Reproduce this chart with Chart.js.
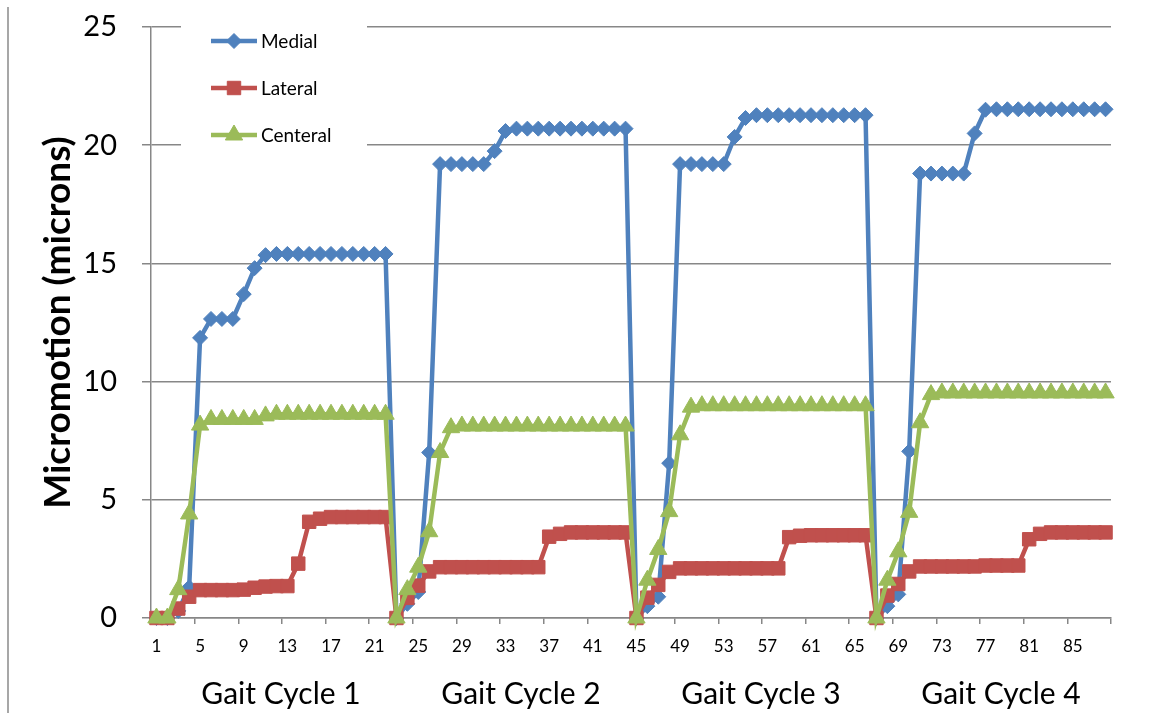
<!DOCTYPE html>
<html>
<head>
<meta charset="utf-8">
<script src="https://cdn.jsdelivr.net/npm/chart.js@4.4.1/dist/chart.umd.min.js"></script>
<style>
  html, body { margin: 0; padding: 0; background: #ffffff; }
  canvas { display: block; }
</style>
</head>
<body>
<canvas id="chart" width="1150" height="713"></canvas>
<script>
// Sample index along the four gait cycles (22 samples per cycle)
const categories = [
  '1','2','3','4','5','6','7','8','9','10','11','12','13','14','15','16','17','18','19','20','21','22',
  '23','24','25','26','27','28','29','30','31','32','33','34','35','36','37','38','39','40','41','42','43','44',
  '45','46','47','48','49','50','51','52','53','54','55','56','57','58','59','60','61','62','63','64','65','66',
  '67','68','69','70','71','72','73','74','75','76','77','78','79','80','81','82','83','84','85','86','87','88'
];

// Micromotion in microns
const medial = [
  0, 0, 0.3, 1.3, 11.85, 12.65, 12.65, 12.65, 13.7, 14.8, 15.35, 15.4, 15.4, 15.4, 15.4, 15.4, 15.4, 15.4, 15.4, 15.4, 15.4, 15.4,
  0, 0.6, 1.1, 7.0, 19.2, 19.2, 19.2, 19.2, 19.2, 19.75, 20.6, 20.7, 20.7, 20.7, 20.7, 20.7, 20.7, 20.7, 20.7, 20.7, 20.7, 20.7,
  0, 0.5, 0.9, 6.55, 19.2, 19.2, 19.2, 19.2, 19.2, 20.35, 21.15, 21.27, 21.27, 21.27, 21.27, 21.27, 21.27, 21.27, 21.27, 21.27, 21.27, 21.27,
  0, 0.5, 1.0, 7.05, 18.8, 18.8, 18.8, 18.8, 18.8, 20.5, 21.5, 21.52, 21.52, 21.52, 21.52, 21.52, 21.52, 21.52, 21.52, 21.52, 21.52, 21.52
];
const lateral = [
  0, 0, 0.4, 0.9, 1.18, 1.18, 1.18, 1.18, 1.2, 1.28, 1.33, 1.35, 1.35, 2.3, 4.07, 4.2, 4.27, 4.27, 4.27, 4.27, 4.27, 4.27,
  0, 0.85, 1.37, 1.97, 2.15, 2.15, 2.15, 2.15, 2.15, 2.15, 2.15, 2.15, 2.15, 2.15, 3.44, 3.56, 3.62, 3.62, 3.62, 3.62, 3.62, 3.62,
  0, 0.86, 1.4, 1.95, 2.1, 2.1, 2.1, 2.1, 2.1, 2.1, 2.1, 2.1, 2.1, 2.1, 3.42, 3.48, 3.5, 3.5, 3.5, 3.5, 3.5, 3.5,
  0, 0.95, 1.44, 1.97, 2.18, 2.18, 2.18, 2.18, 2.18, 2.18, 2.22, 2.22, 2.22, 2.22, 3.33, 3.56, 3.62, 3.62, 3.62, 3.62, 3.62, 3.62
];
const centeral = [
  0, 0, 1.2, 4.4, 8.16, 8.4, 8.4, 8.4, 8.4, 8.4, 8.55, 8.62, 8.62, 8.62, 8.62, 8.62, 8.62, 8.62, 8.62, 8.62, 8.62, 8.62,
  0, 1.2, 2.15, 3.65, 7.0, 8.05, 8.12, 8.12, 8.12, 8.12, 8.12, 8.12, 8.12, 8.12, 8.12, 8.12, 8.12, 8.12, 8.12, 8.12, 8.12, 8.12,
  0, 1.6, 2.9, 4.5, 7.75, 8.92, 8.98, 8.98, 8.98, 8.98, 8.98, 8.98, 8.98, 8.98, 8.98, 8.98, 8.98, 8.98, 8.98, 8.98, 8.98, 8.98,
  0, 1.6, 2.8, 4.47, 8.26, 9.45, 9.52, 9.52, 9.52, 9.52, 9.52, 9.52, 9.52, 9.52, 9.52, 9.52, 9.52, 9.52, 9.52, 9.52, 9.52, 9.52
];

const cycleNames = ['Gait Cycle 1', 'Gait Cycle 2', 'Gait Cycle 3', 'Gait Cycle 4'];
const cycleLength = 22;
const labelEvery = 4;

const FONT = 'Lato, "Open Sans", "DejaVu Sans", sans-serif';
const GRID = '#878787';

// Left frame line and the per-cycle captions under the axis
const captionsPlugin = {
  id: 'captions',
  beforeDraw(chart) {
    const ctx = chart.ctx;
    ctx.save();
    ctx.strokeStyle = '#8a8a8a';
    ctx.lineWidth = 1.5;
    ctx.beginPath();
    ctx.moveTo(8, 7);
    ctx.lineTo(8, chart.height);
    ctx.stroke();
    ctx.restore();
  },
  afterDraw(chart) {
    const ctx = chart.ctx;
    const xs = chart.scales.x;
    ctx.save();
    ctx.fillStyle = '#000';
    ctx.font = '30px ' + FONT;
    ctx.textAlign = 'center';
    ctx.textBaseline = 'middle';
    cycleNames.forEach((name, k) => {
      const a = xs.getPixelForValue(k * cycleLength);
      const b = xs.getPixelForValue(k * cycleLength + cycleLength - 1);
      ctx.fillText(name, (a + b) / 2 + 10, 694);
    });
    ctx.restore();
  }
};

// Legend drawn inside the plot: line sample with its marker, then the name
const innerLegend = {
  id: 'innerLegend',
  afterDraw(chart) {
    const ctx = chart.ctx;
    const area = chart.chartArea;
    const left = area.left + 30;
    const top = area.top - 9;
    ctx.save();
    ctx.fillStyle = '#ffffff';
    ctx.fillRect(left, top, 186, 140);
    chart.data.datasets.forEach((ds, i) => {
      const y = top + 23 + i * 47;
      const x0 = left + 30, x1 = left + 76, xm = (x0 + x1) / 2;
      ctx.strokeStyle = ds.borderColor;
      ctx.lineWidth = ds.borderWidth;
      ctx.beginPath();
      ctx.moveTo(x0, y);
      ctx.lineTo(x1, y);
      ctx.stroke();
      ctx.fillStyle = ds.pointBackgroundColor;
      ctx.strokeStyle = ds.pointBorderColor;
      ctx.lineWidth = ds.pointBorderWidth;
      Chart.helpers.drawPoint(ctx, {
        pointStyle: ds.pointStyle, radius: ds.pointRadius, rotation: 0, borderWidth: ds.pointBorderWidth
      }, xm, y);
      ctx.fillStyle = '#000';
      ctx.font = '19px ' + FONT;
      ctx.textAlign = 'left';
      ctx.textBaseline = 'middle';
      ctx.fillText(ds.label, x1 + 4, y + 1);
    });
    ctx.restore();
  }
};

function series(label, data, color, style, radius, order) {
  return {
    label, data, order,
    borderColor: color,
    backgroundColor: color,
    borderWidth: 4.5,
    pointStyle: style,
    pointRadius: radius,
    pointHoverRadius: radius,
    pointBackgroundColor: color,
    pointBorderColor: color,
    pointBorderWidth: 1,
    tension: 0,
    clip: false
  };
}

function build() {
  new Chart(document.getElementById('chart'), {
    type: 'line',
    data: {
      labels: categories,
      datasets: [
        series('Medial', medial, '#4F81BD', 'rectRot', 7.5, 3),
        series('Lateral', lateral, '#C0504D', 'rect', 9.5, 2),
        series('Centeral', centeral, '#9BBB59', 'triangle', 10, 1)
      ]
    },
    options: {
      responsive: false,
      animation: false,
      layout: { padding: { left: 0, right: 39, top: 27, bottom: 0 } },
      plugins: {
        legend: { display: false },
        tooltip: { enabled: false }
      },
      scales: {
        x: {
          type: 'category',
          offset: true,
          afterFit(scale) { scale.height = 95; },
          border: { display: true, color: GRID, width: 1.5 },
          grid: {
            offset: true,
            drawOnChartArea: false,
            drawTicks: true,
            tickLength: 6,
            lineWidth: 1.5,
            color: (c) => (c.type !== 'tick' || c.index % labelEvery === 0) ? GRID : 'rgba(0,0,0,0)'
          },
          ticks: {
            autoSkip: false,
            maxRotation: 0,
            minRotation: 0,
            padding: 12,
            color: '#000',
            font: { family: FONT, size: 17 },
            callback: (v, i) => (i % labelEvery === 0 ? categories[i] : '')
          }
        },
        y: {
          min: 0,
          max: 25,
          afterFit(scale) {
            scale.width = 151;
            // the wide label gap should not push the plot down
            scale.paddingTop = 10;
            scale.paddingBottom = 10;
          },
          border: { display: true, color: GRID, width: 1.5 },
          grid: {
            color: GRID,
            lineWidth: 1.5,
            drawTicks: true,
            tickLength: 9
          },
          ticks: {
            stepSize: 5,
            padding: 25,
            color: '#000',
            font: { family: FONT, size: 29 }
          },
          title: {
            display: true,
            text: 'Micromotion (microns)',
            color: '#000',
            font: { family: FONT, size: 37, weight: 'bold' },
            padding: { top: 36, bottom: 0 }
          }
        }
      }
    },
    plugins: [captionsPlugin, innerLegend]
  });
}

if (document.fonts && document.fonts.load) {
  Promise.all([
    document.fonts.load('16px Lato'),
    document.fonts.load('bold 37px Lato')
  ]).then(build, build);
} else {
  build();
}
</script>
</body>
</html>
